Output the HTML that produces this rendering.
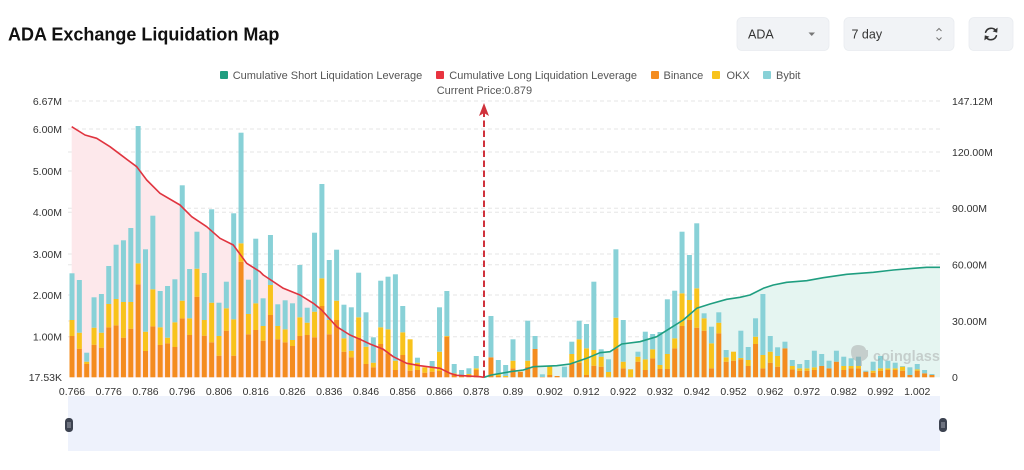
<!DOCTYPE html>
<html><head><meta charset="utf-8">
<style>
html,body{margin:0;padding:0;background:#fff;}
body{width:1024px;height:470px;overflow:hidden;font-family:"Liberation Sans",sans-serif;}
svg{display:block;}
</style></head>
<body>
<svg id="c" width="1024" height="470" viewBox="0 0 1024 470" xmlns="http://www.w3.org/2000/svg" font-family="Liberation Sans, sans-serif">
  <!-- title -->
  <text x="8" y="40.5" font-size="18" font-weight="bold" fill="#111">ADA Exchange Liquidation Map</text>
  <!-- controls -->
  <rect x="737" y="17.5" width="92" height="33" rx="5" fill="#f1f3f6" stroke="#e9ecf0" stroke-width="0.8"/>
  <text x="748" y="38.5" font-size="12.5" fill="#333">ADA</text>
  <path d="M808.5 32.5 L815 32.5 L811.75 36 Z" fill="#777"/>
  <rect x="844" y="17.5" width="110" height="33" rx="5" fill="#f1f3f6" stroke="#e9ecf0" stroke-width="0.8"/>
  <text x="851.5" y="38.5" font-size="12.5" fill="#333">7 day</text>
  <path d="M936.5 31 L939 28.5 L941.5 31 M936.5 37.5 L939 40 L941.5 37.5" stroke="#777" stroke-width="1" fill="none"/>
  <rect x="969" y="17.5" width="44" height="33" rx="5" fill="#f1f3f6" stroke="#e9ecf0" stroke-width="0.8"/>
  <g stroke="#333" stroke-width="1.6" fill="none" stroke-linecap="round">
    <path d="M996.3 31.5 A5.8 5.8 0 0 0 985.6 32.2"/>
    <path d="M985.7 36.5 A5.8 5.8 0 0 0 996.4 35.8"/>
  </g>
  <path d="M997.6 27.6 L997.2 32.6 L992.6 31.4 Z" fill="#333"/>
  <path d="M984.4 40.4 L984.8 35.4 L989.4 36.6 Z" fill="#333"/>

  <!-- legend -->
  <g font-size="11" fill="#555">
    <rect x="220" y="71" width="8" height="8" rx="1" fill="#1f9e80"/>
    <text x="232.7" y="79">Cumulative Short Liquidation Leverage</text>
    <rect x="436" y="71" width="8" height="8" rx="1" fill="#e8333f"/>
    <text x="449.3" y="79">Cumulative Long Liquidation Leverage</text>
    <rect x="651" y="71" width="8" height="8" rx="1" fill="#f48c1f"/>
    <text x="663.5" y="79">Binance</text>
    <rect x="712" y="71" width="8" height="8" rx="1" fill="#f8c31c"/>
    <text x="726.5" y="79">OKX</text>
    <rect x="763" y="71" width="8" height="8" rx="1" fill="#88d1d7"/>
    <text x="776" y="79">Bybit</text>
    <text x="436.7" y="94">Current Price:0.879</text>
  </g>

  <g id="grid"></g>
  <g id="fills"></g>
  <g id="bars"></g>
  <g id="lines"></g>
  <g id="axes" font-size="10.5" fill="#333"></g>

  <!-- current price marker -->
  <line x1="484" y1="377" x2="484" y2="112" stroke="#d0323c" stroke-width="2" stroke-dasharray="6.5 3.5"/>
  <path d="M484 103 L489 116 L484 113 L479 116 Z" fill="#d0323c"/>

  <!-- watermark -->
  <g opacity="0.42">
    <path d="M851 352 Q851 345 858 345 Q865 345 866 350 L868 350 L868 356 Q866 360 862 361 L862 366 L856 366 L856 361 Q851 359 851 352 Z" fill="#9a9a9a"/>
    <text x="873" y="361" font-size="14.5" font-weight="bold" fill="#9a9a9a">coinglass</text>
  </g>

  <!-- slider -->
  <rect x="68" y="396" width="872" height="55" fill="#eef2fc"/>
  <rect x="65" y="418" width="8" height="14" rx="3.5" fill="#3d4350"/>
  <path d="M68 422 V428 M70 422 V428" stroke="#c8ccd6" stroke-width="0.7"/>
  <rect x="939" y="418" width="8" height="14" rx="3.5" fill="#3d4350"/>
  <path d="M942 422 V428 M944 422 V428" stroke="#c8ccd6" stroke-width="0.7"/>
</svg>
<script>
(function(){
var NS="http://www.w3.org/2000/svg";
function el(parent,tag,attrs,txt){var e=document.createElementNS(NS,tag);for(var k in attrs)e.setAttribute(k,attrs[k]);if(txt!==undefined)e.textContent=txt;document.getElementById(parent).appendChild(e);return e;}
var base=377.3;
var gl=[101,129,152,171,208.3,212.3,254,264.7,295,321,336.7];
gl.forEach(function(y){el("grid","line",{x1:68,x2:943,y1:y,y2:y,stroke:"#e6e6e6","stroke-width":1,"stroke-dasharray":"4 3"});});
var D=[
[273.3,320,336],[280,332.7,348.7],[352.7,361.7,364],[297.3,327.7,344.7],[294,332.7,347.7],
[266,304,327.3],[244.7,299,325.3],[240.3,302,337.7],[228,302,328.7],[126,263.3,284.3],
[249.3,331.7,351],[215.7,289.3,326.3],[291,327.3,345],[286,337.7,343.3],[279.3,322.3,347],
[185.3,300.7,318.3],[269,318.3,335],[231.7,268.7,296.7],[273,320,335.7],[209.3,302.7,342.3],
[302.7,336,355.7],[281.7,308.3,330.7],[213.3,319.3,355.7],[132.7,243.3,261.7],[279.7,314,334.3],
[238.7,303.3,330],[298.3,326,340.7],[235,285,315],[304.3,326,339.3],[300.3,329.3,342.3],
[303.3,340,346],[265,317.3,336],[307.7,322.7,335],[232.7,311.7,337.3],[184,278.3,306],
[260,320,334.3],[249.7,300.7,320],[304.7,338.3,351.7],[307.3,350.7,357.3],[272.7,317.3,337.7],
[312.3,346.7,364],[337.3,362.7,367.3],[280.7,327.3,344],[276.7,329.3,353.3],[274.3,360.7,370],
[306,332.3,355],[339.3,339.3,370.7],[357.7,362.7,370],[367.3,367.3,372.7],[361,366.7,371.7],
[307.3,351.7,371],[291,336,336.7],[364,373.3,375],[370,376,376],[368.3,374,375.7],
[356,368.3,370],[377.3,377.3,377.3],[316,357.3,357.3],[360,374,376],[365,376,377],
[339.3,360.7,368.3],[371.7,371.7,371.7],[320.7,360.7,366.7],[336,349,349],[374.3,377,377],
[366,366,375],[376,376,376],[366.7,377.3,377.3],[341.7,354,363.3],[320.7,339.3,362.7],
[324,348.3,375],[281.7,350,365.7],[349.3,356.7,366.7],[359.3,372,376.7],[249.3,317.7,348.3],
[320,361.7,368.3],[369.3,369.3,377],[351.7,356.7,361.7],[331.7,359.3,370],[334,349.3,358.3],
[332,365,369],[299.3,354,369],[290.7,338.3,348.3],[231.7,293.3,326],[255,300,320],
[223.3,288.3,327.7],[313.3,318.3,330.7],[326.7,343.3,368.3],[312.3,322.7,333.3],[350,357.3,361.7],
[351.7,351.7,360.7],[330.7,358,359.3],[347,360,366],[318.3,336.7,344],[294,355,368.3],
[336,351.7,362.7],[347.3,356,366.7],[341.7,348.3,348.3],[360,366,369.3],[364,368.3,370.7],
[360,368.3,370.7],[350.7,367.3,370],[354,366,366],[360.7,368.3,368.3],[350.7,361.7,361.7],
[356.7,366,370],[358.3,366,368.3],[356.7,366,368.3],[370.7,371.7,371.7],[361.7,370.7,372.7],
[356,368.3,370.7],[360.7,368.3,370],[362.7,368.3,370],[366,366.7,370.7],[367.3,375,375],
[364,369.3,370.7],[370,373.3,373.3],[374,375,375]
];
var red=[[71.7,126.7],[85,135],[96.7,138.3],[110,146.7],[123.3,156.7],[136.7,166.7],[146.7,180],[160,193.3],[180,205],[191.7,216.7],[206.7,226.7],[220,238.3],[233.3,245],[246.7,263.3],[260,271.7],[263.3,275],[283.3,288.3],[300,295],[313.3,303.3],[321.7,310],[336.7,326.7],[350,335],[360,339.3],[370,344],[383.3,349.3],[393.3,356.7],[406.7,363.3],[420,365.7],[440,368.3],[450,373.3],[456.7,375.3],[480,376.7],[484,377.3]];
var grn=[[484,377.3],[491.3,375],[510,371.7],[523.3,370],[533.3,366.7],[556.7,365.7],[570,364],[586.7,358.3],[600,352.7],[610,351.7],[621.7,344],[640,341.7],[656.7,336.7],[670,328.3],[683.3,320],[696.7,308.3],[710,304],[726.7,299.3],[740,297.3],[750,295],[763.3,288.3],[773.3,285],[786.7,282.3],[806.7,280.7],[823.3,277.7],[846.7,274.3],[873.3,272.3],[893.3,270],[913.3,268.3],[926.7,267.3],[940,267.3]];
function pts(a){return a.map(function(p){return p[0]+","+p[1];}).join(" ");}
el("fills","polygon",{points:pts(red)+" 484,377.3 71.7,377.3",fill:"#fde8eb"});
el("fills","polygon",{points:pts(grn)+" 940,377.3 484,377.3",fill:"#e5f5f1"});
for(var i=0;i<D.length;i++){
  var cx=72+i*7.35,x=cx-2.5,t=D[i][0],y=D[i][1],o=D[i][2];
  if(o<base) el("bars","rect",{x:x,y:o,width:5,height:base-o,fill:"#f48c1f"});
  if(y<o) el("bars","rect",{x:x,y:y,width:5,height:o-y,fill:"#f8c31c"});
  if(t<y) el("bars","rect",{x:x,y:t,width:5,height:y-t,fill:"#88d1d7"});
}
el("lines","polyline",{points:pts(red),fill:"none",stroke:"#e0343f","stroke-width":1.6,"stroke-linejoin":"round"});
el("lines","polyline",{points:pts(grn),fill:"none",stroke:"#1f9e80","stroke-width":1.6,"stroke-linejoin":"round"});
var L=[["6.67M",101],["6.00M",129],["5.00M",171],["4.00M",212.3],["3.00M",254],["2.00M",295],["1.00M",336.7],["17.53K",377.3]];
L.forEach(function(a){el("axes","text",{x:62,y:a[1]+3.8,"text-anchor":"end"},a[0]);});
var R=[["147.12M",101],["120.00M",152],["90.00M",208.3],["60.00M",264.7],["30.00M",321],["0",377.3]];
R.forEach(function(a){el("axes","text",{x:952,y:a[1]+3.8},a[0]);});
var X=["0.766","0.776","0.786","0.796","0.806","0.816","0.826","0.836","0.846","0.856","0.866","0.878","0.89","0.902","0.912","0.922","0.932","0.942","0.952","0.962","0.972","0.982","0.992","1.002"];
X.forEach(function(s,k){el("axes","text",{x:72+k*36.75,y:395,"text-anchor":"middle"},s);});
})();
</script>
</body></html>
